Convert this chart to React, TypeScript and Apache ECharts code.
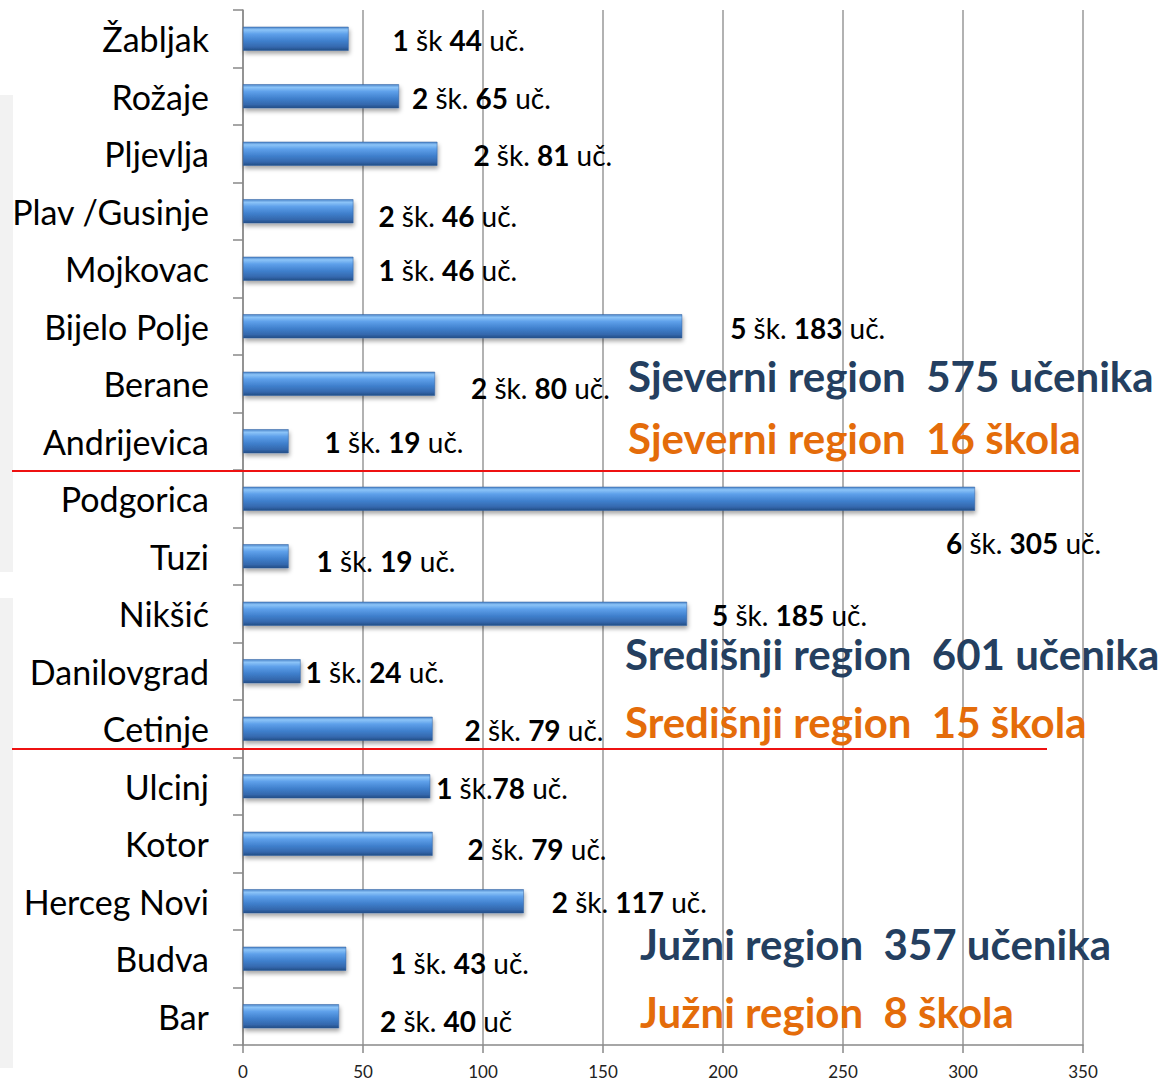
import React, { useEffect, useRef } from "react";
import * as echarts from "echarts";

const categories = [
  "Žabljak", "Rožaje", "Pljevlja", "Plav /Gusinje", "Mojkovac", "Bijelo Polje",
  "Berane", "Andrijevica", "Podgorica", "Tuzi", "Nikšić", "Danilovgrad",
  "Cetinje", "Ulcinj", "Kotor", "Herceg Novi", "Budva", "Bar",
];
const students = [44, 65, 81, 46, 46, 183, 80, 19, 305, 19, 185, 24, 79, 78, 79, 117, 43, 40];
const barLabels = [
  "1 šk 44 uč.", "2 šk. 65 uč.", "2 šk. 81 uč.", "2 šk. 46 uč.", "1 šk. 46 uč.",
  "5 šk. 183 uč.", "2 šk. 80 uč.", "1 šk. 19 uč.", "6 šk. 305 uč.", "1 šk. 19 uč.",
  "5 šk. 185 uč.", "1 šk. 24 uč.", "2 šk. 79 uč.", "1 šk.78 uč.", "2 šk. 79 uč.",
  "2 šk. 117 uč.", "1 šk. 43 uč.", "2 šk. 40 uč",
];
// label offsets [dx, dy] relative to bar end
const labelOffsets = [
  [44, 1], [13, 2], [36, 1], [25, 5], [25, 1], [48, 2], [36, 4], [36, 1], [-29, 44],
  [28, 5], [25, 1], [5, 1], [32, 1], [6, 2], [35, 5], [28, 1], [44, 4], [41, 5],
];
const xTicks = [0, 50, 100, 150, 200, 250, 300, 350];
const regionTexts = [
  { text: "Sjeverni region  575 učenika", color: "#243f60", x: 628, y: 376 },
  { text: "Sjeverni region  16 škola", color: "#e46c0a", x: 628, y: 438 },
  { text: "Središnji region  601 učenika", color: "#243f60", x: 625, y: 654 },
  { text: "Središnji region  15 škola", color: "#e46c0a", x: 625, y: 722 },
  { text: "Južni region  357 učenika", color: "#243f60", x: 640, y: 944 },
  { text: "Južni region  8 škola", color: "#e46c0a", x: 640, y: 1012 },
];

export default function App() {
  const ref = useRef<HTMLDivElement>(null);
  useEffect(() => {
    document.body.style.margin = "0";
    const chart = echarts.init(ref.current!, null, { renderer: "svg" });
    const font = "Lato, 'Open Sans', sans-serif";
    const barColor = new echarts.graphic.LinearGradient(0, 0, 0, 1, [
      { offset: 0, color: "#4a83c8" },
      { offset: 0.12, color: "#8cc4f8" },
      { offset: 0.3, color: "#5ea0ea" },
      { offset: 0.6, color: "#3f7fcc" },
      { offset: 0.85, color: "#3468ad" },
      { offset: 1, color: "#234c84" },
    ]);
    chart.setOption({
      animation: false,
      backgroundColor: "#ffffff",
      grid: { left: 243, right: 76, top: 10, bottom: 36, containLabel: false },
      xAxis: {
        type: "value",
        min: 0,
        max: 350,
        interval: 50,
        axisLine: { show: true, lineStyle: { color: "#888", width: 1.5 } },
        axisTick: { show: true, length: 8, lineStyle: { color: "#888", width: 1.5 } },
        axisLabel: {
          fontSize: 17,
          color: "#222",
          fontFamily: "Lato, sans-serif",
          margin: 18,
          formatter: (v: number) => (xTicks.includes(v) ? String(v) : ""),
        },
        splitLine: { show: true, lineStyle: { color: "#999", width: 1.5 } },
      },
      yAxis: {
        type: "category",
        data: categories,
        inverse: true,
        axisLine: { show: true, lineStyle: { color: "#888", width: 1.5 } },
        axisTick: { show: true, length: 10, lineStyle: { color: "#888", width: 1.5 } },
        axisLabel: { fontSize: 34, color: "#000", fontFamily: font, margin: 34 },
      },
      series: [
        {
          type: "bar",
          barWidth: 24,
          data: students.map((v, i) => ({
            value: v,
            label: {
              offset: labelOffsets[i],
            },
          })),
          itemStyle: {
            color: barColor,
            borderColor: "#2f5f9e",
            borderWidth: 0.5,
            shadowBlur: 4,
            shadowOffsetY: 3,
            shadowOffsetX: 1,
            shadowColor: "rgba(0,0,0,0.35)",
          },
          label: {
            show: true,
            position: "right",
            distance: 0,
            fontFamily: font,
            fontSize: 28,
            color: "#000",
            formatter: (p: any) => barLabels[p.dataIndex].replace(/(\d+)/g, "{b|$1}"),
            rich: {
              b: { fontWeight: "bold", fontSize: 28, fontFamily: font, color: "#000" },
            },
          },
        },
      ],
      graphic: [
        { type: "rect", z: -10, shape: { x: 0, y: 95, width: 13, height: 477 }, style: { fill: "#f2f2f2" } },
        { type: "rect", z: -10, shape: { x: 0, y: 598, width: 13, height: 470 }, style: { fill: "#f2f2f2" } },
        { type: "line", z: 50, shape: { x1: 12, y1: 471, x2: 1080, y2: 471 }, style: { stroke: "#ee1111", lineWidth: 2 } },
        { type: "line", z: 50, shape: { x1: 12, y1: 749, x2: 1047, y2: 749 }, style: { stroke: "#ee1111", lineWidth: 2 } },
        ...regionTexts.map((r) => ({
          type: "text",
          z: 60,
          x: r.x,
          y: r.y,
          style: {
            text: r.text,
            fill: r.color,
            font: `bold 42px Lato, sans-serif`,
            textVerticalAlign: "middle",
            verticalAlign: "middle",
          },
        })),
      ],
    });
    return () => chart.dispose();
  }, []);
  return <div ref={ref} style={{ width: 1159, height: 1081 }} />;
}
